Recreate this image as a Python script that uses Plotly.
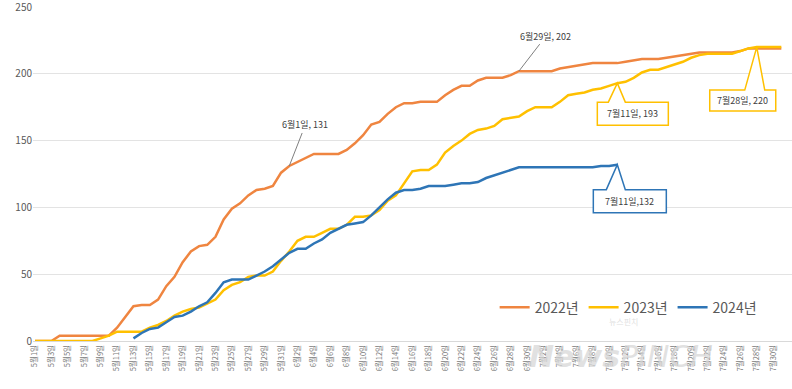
import datetime as dt
import plotly.graph_objects as go

# ---------------- data ----------------
start_date = dt.date(2024, 5, 1)
days = list(range(92))                      # 5월1일 .. 7월31일
tick_days = list(range(0, 92, 2))
tick_labels = [f"{(start_date + dt.timedelta(days=d)).month}월{(start_date + dt.timedelta(days=d)).day}일"
               for d in tick_days]

v2022 = [0, 0, 0, 4, 4, 4, 4, 4, 4, 4,
         10, 18, 26, 27, 27, 31, 41, 48, 59, 67,
         71, 72, 78, 91, 99, 103, 109, 113, 114, 116,
         126, 131, 134, 137, 140, 140, 140, 140, 143, 148,
         154, 162, 164, 170, 175, 178, 178, 179, 179, 179,
         184, 188, 191, 191, 195, 197, 197, 197, 199, 202,
         202, 202, 202, 202, 204, 205, 206, 207, 208, 208,
         208, 208, 209, 210, 211, 211, 211, 212, 213, 214,
         215, 216, 216, 216, 216, 216, 217, 219, 219, 219,
         219, 219]

v2023 = [0, 0, 0, 0, 0, 0, 0, 0, 2, 4,
         7, 7, 7, 7, 10, 12, 15, 19, 22, 24,
         25, 28, 31, 38, 42, 44, 48, 49, 49, 52,
         60, 67, 75, 78, 78, 81, 84, 84, 87, 93,
         93, 94, 98, 105, 109, 118, 127, 128, 128, 132,
         141, 146, 150, 155, 158, 159, 161, 166, 167, 168,
         172, 175, 175, 175, 179, 184, 185, 186, 188, 189,
         191, 193, 194, 197, 201, 203, 203, 205, 207, 209,
         212, 214, 215, 215, 215, 215, 217, 219, 220, 220,
         220, 220]

v2024 = [None] * 12 + [
    2, 6, 9, 10, 14, 18, 19, 22, 26, 29,
    36, 44, 46, 46, 46, 49, 52, 56, 61, 66,
    69, 69, 73, 76, 81, 84, 87, 88, 89, 94,
    100, 106, 111, 113, 113, 114, 116, 116, 116, 117,
    118, 118, 119, 122, 124, 126, 128, 130, 130, 130,
    130, 130, 130, 130, 130, 130, 130, 131, 131, 132] + [None] * 20

series_names = ["2022년", "2023년", "2024년"]
series_colors = ["#EF8540", "#FFC000", "#2E75B6"]

FONT = "Noto Sans CJK KR, Noto Sans, sans-serif"

fig = go.Figure()
for name, vals, col in zip(series_names, [v2022, v2023, v2024], series_colors):
    fig.add_trace(go.Scatter(x=days, y=vals, mode="lines", name=name,
                             line=dict(color=col, width=2.5), connectgaps=False))

# ---------------- annotations ----------------
ann_font = dict(family=FONT, size=9, color="#404040")

# leader-line labels on 2022
leader_labels = [(31, f"6월1일, {v2022[31]}", 16, -41), (59, f"6월29일, {v2022[59]}", 27, -35)]
for d, txt, ax, ay in leader_labels:
    fig.add_annotation(x=d, y=v2022[d], text=txt, font=ann_font, showarrow=True,
                       arrowhead=0, arrowwidth=1, arrowcolor="#7F7F7F",
                       ax=ax, ay=ay, standoff=0)

# callout boxes: (day, value, text, color, left, right, top, bottom, wedge_l, wedge_r)
callouts = [
    (71, v2023[71], f"7월11일, {v2023[71]}", "#FFC000", -20, 51, -19, -42, -9, 8),
    (88, v2023[88], f"7월28일, {v2023[88]}", "#FFC000", -47, 19, -43, -64, -12, 8),
    (71, v2024[71], f"7월11일,{v2024[71]}", "#2E75B6", -24, 49, -25, -48, -11, 8),
]
for d, val, txt, col, l, r, t, b, wl, wr in callouts:
    path = (f"M {l} {t} L {wl} {t} L 0 0 L {wr} {t} L {r} {t} "
            f"L {r} {b} L {l} {b} Z")
    fig.add_shape(type="path", xref="x", yref="y", xsizemode="pixel", ysizemode="pixel",
                  xanchor=d, yanchor=val, path=path, fillcolor="white",
                  line=dict(color=col, width=1.5), layer="above")
    fig.add_annotation(x=d, y=val, text=txt, font=ann_font, showarrow=False,
                       xshift=(l + r) / 2, yshift=(t + b) / 2)

# watermark
fig.add_annotation(xref="paper", yref="paper", x=0.775, y=-0.045, text="<i><b>News</b>PINCH</i>",
                   font=dict(family="DejaVu Sans, sans-serif", size=30, color="rgba(215,215,215,0.75)"),
                   showarrow=False, xanchor="center", yanchor="middle")
fig.add_annotation(xref="paper", yref="paper", x=0.80, y=0.035, text="뉴스핀치",
                   font=dict(family=FONT, size=8, color="rgba(215,215,215,0.8)"),
                   showarrow=False)

fig.update_layout(
    width=792, height=389,
    margin=dict(l=33, r=0, t=7, b=48),
    paper_bgcolor="white", plot_bgcolor="white",
    font=dict(family=FONT, color="#595959"),
    showlegend=True,
    legend=dict(orientation="h", x=0.96, xanchor="right", y=0.10, yanchor="middle",
                font=dict(family=FONT, size=14, color="#595959"),
                bgcolor="rgba(0,0,0,0)", itemwidth=30, tracegroupgap=0),
    xaxis=dict(range=[-0.25, 92.3], tickmode="array", tickvals=tick_days, ticktext=tick_labels,
               tickangle=-90, tickfont=dict(family=FONT, size=7.5, color="#7A7A7A"),
               showgrid=False, zeroline=False, showline=True, linecolor="#D9D9D9",
               linewidth=1, ticks="", automargin=False),
    yaxis=dict(range=[0, 250], tickmode="array", tickvals=[0, 50, 100, 150, 200, 250],
               tickfont=dict(family=FONT, size=10, color="#595959"),
               showgrid=True, gridcolor="#E3E3E3", gridwidth=1, zeroline=False, ticks="",
               automargin=False, ticklabeloverflow="allow"),
)

fig.write_html("out.html", config={"displayModeBar": False},
               post_script="document.body.style.margin='0';document.body.style.padding='0';")
